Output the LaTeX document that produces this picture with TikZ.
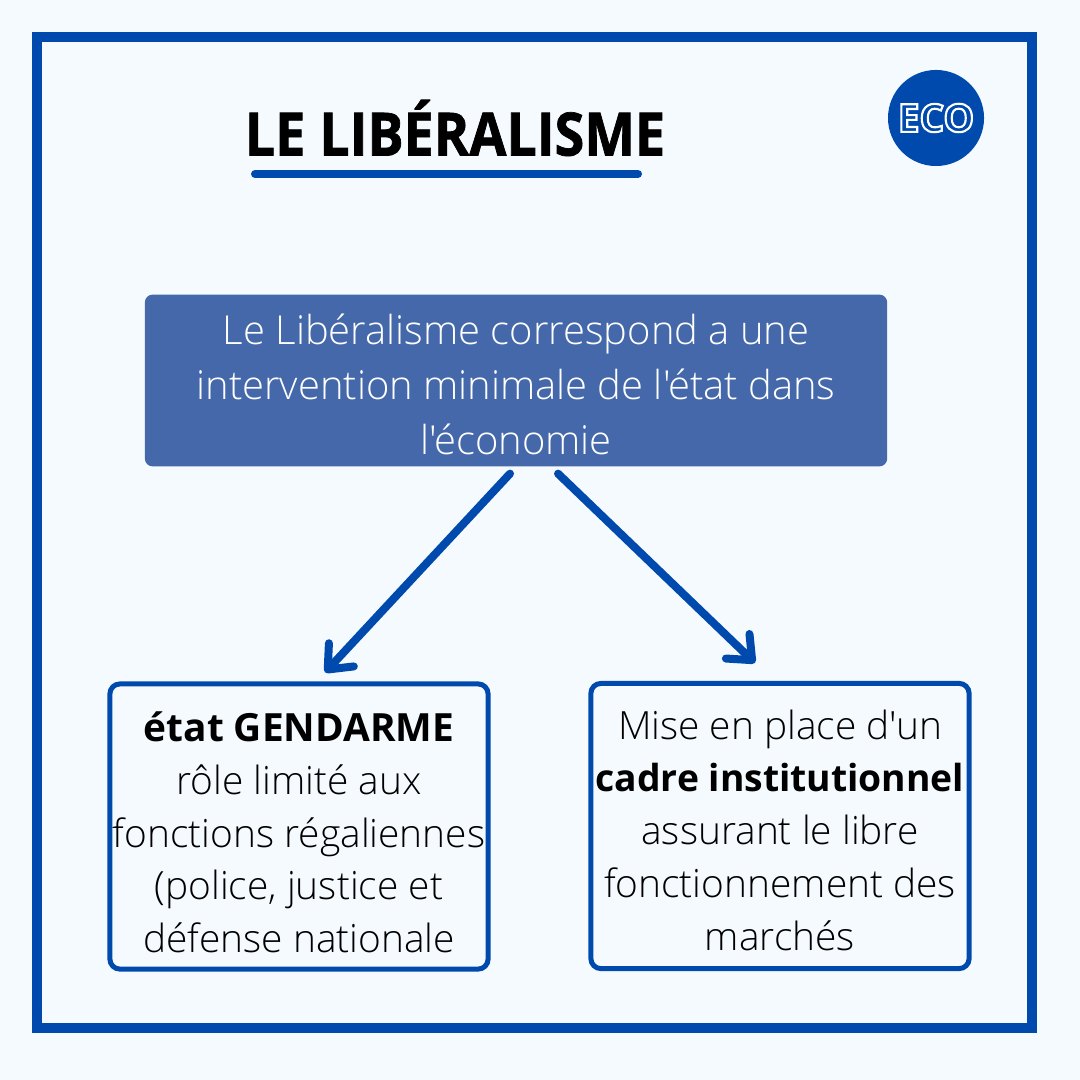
\documentclass[tikz,border=0pt]{standalone}
\usepackage{fontspec}
\setmainfont{Open Sans}
\newfontfamily\lightfont{Open Sans Light}[BoldFont={Open Sans Bold}]
\newfontfamily\heavyfont{Open Sans Bold}[FakeBold=1.2, FakeStretch=0.9]
\usepackage{tikz}
\usetikzlibrary{arrows.meta, positioning, calc}

\definecolor{pagebg}{HTML}{F5FAFE}
\definecolor{ecoblue}{HTML}{004AAD}
\definecolor{boxblue}{HTML}{4468A9}

\begin{document}
\begin{tikzpicture}[
    x=0.01cm, y=-0.01cm,
    frame/.style={draw=ecoblue, line width=0.1cm},
    mainbox/.style={fill=boxblue, rounded corners=0.08cm, minimum width=7.42cm,
                minimum height=1.67cm, align=center, text=white,
                font=\lightfont\fontsize{11.35}{15.6}\selectfont},
    sidebox/.style={draw=ecoblue, line width=0.05cm, rounded corners=0.1cm,
                inner xsep=0pt, inner ysep=0pt, minimum width=3.78cm, minimum height=2.85cm,
                align=center, font=\lightfont\fontsize{11.05}{15.0}\selectfont},
    arrow/.style={-{Straight Barb[length=0.2cm, width=0.34cm, round]},
                draw=ecoblue, line width=0.08cm, line cap=round},
]
% Page and frame
\useasboundingbox[fill=pagebg] (0,0) rectangle (1080,1080);
\draw[frame] (37,37) rectangle (1032,1028);

% Title
\node[font=\heavyfont\fontsize{17}{20}\selectfont] (title) at (455,128) {LE LIBÉRALISME};
\draw[ecoblue, line width=0.08cm, line cap=round] (255,174) -- (638,174);
\node[circle, fill=ecoblue, minimum size=0.96cm, inner sep=0pt, text=ecoblue,
      font=\bfseries\fontsize{11}{13}\selectfont] (eco) at (936,118)
      {\special{pdf:literal 2 Tr 1 1 1 RG 0.6 w}ECO\special{pdf:literal 0 Tr}};

% Definition and its two consequences
\node[mainbox] (def) at (516,380.5) {\rule{0pt}{10.9pt}Le Libéralisme correspond a une\\
    intervention minimale de l'état dans\\ l'économie};
\node[sidebox] (etat) at (299,826.5) {\rule{0pt}{11.8pt}\textbf{état GENDARME}\\ rôle limité aux\\
    fonctions régaliennes\\ (police, justice et\\ défense nationale};
\node[sidebox] (cadre) at (780,826) {\rule{0pt}{10.7pt}Mise en place d'un\\
    {\fontsize{10.6}{15}\selectfont\textbf{cadre institutionnel}}\\ assurant le libre\\
    fonctionnement des\\ marchés};

\draw[arrow] ([xshift=-0.06cm, yshift=-0.065cm]def.south) -- ([xshift=0.26cm, yshift=0.09cm]etat.north);
\draw[arrow] ([xshift=0.42cm, yshift=-0.065cm]def.south) -- ([xshift=-0.25cm, yshift=0.18cm]cadre.north);

\end{tikzpicture}
\end{document}
